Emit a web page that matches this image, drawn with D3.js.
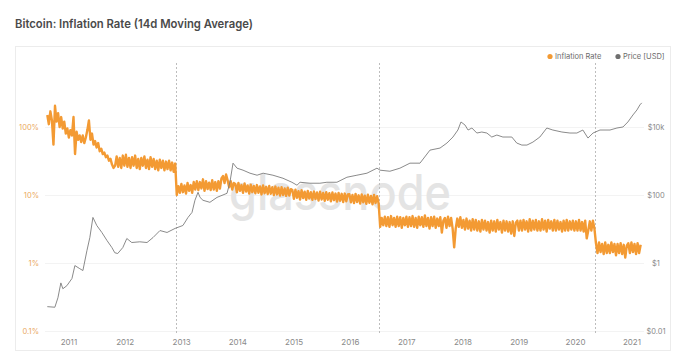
<!DOCTYPE html>
<html><head><meta charset="utf-8">
<script src="https://cdn.jsdelivr.net/npm/d3@7"></script>
<style>html,body{margin:0;padding:0;background:#fff;}svg{display:block;}</style>
</head><body>
<svg id="chart" width="687" height="357"></svg>
<script>
// ---- data ----
const title = "Bitcoin: Inflation Rate (14d Moving Average)";
const yearTicks = ["2011","2012","2013","2014","2015","2016","2017","2018","2019","2020","2021"];
const leftTicks = [100, 10, 1, 0.1];
const leftTickLabels = ["100%","10%","1%","0.1%"];
const rightTicks = [10000, 100, 1, 0.01];
const rightTickLabels = ["$10k","$100","$1","$0.01"];
const halvings = ["2012-11-28","2016-07-09","2020-05-11"];

// Inflation rate (%), one value every 10 days starting 2010-08-17
const inflationStart = "2010-08-17";
const inflationStepDays = 10;
const inflation = [
 150,110,170,125,55,205,120,160,100,140,95,120,
 80,95,70,90,75,140,40,85,65,75,
 60,75,58,70,90,125,65,80,55,62,
 50,58,44,48,40,42,36,38,32,34,28,25,
 27,37,26,35,25,38,27,39,26,35,
 25,36,27,38,25,34,24,35,27,37,
 25,33,24,36,26,34,24,32,23,33,
 25,32,23,31,24,32,23,30,22,29,
 10,13.5,10.8,14.5,11,13.8,10.5,15,11.5,14,10.8,15.5,
 12,16,11.8,15.5,12.5,17,11.5,16,12.2,15.2,11.8,16.5,12,15.5,11.5,16,12.4,17.5,19,15,
 20,16.5,13,16,12,15,
 14.5,11,15,11.5,14,10.8,14.8,11.2,13.8,10.5,14.2,11,13.6,10.6,14,10.8,13.4,10.2,13.8,10.6,13.2,10.3,13.6,10.4,13,10,13.3,10.2,12.8,9.8,13,10,12.5,9.7,12.8,9.8,12.2,
 11.8,8.8,12,9.1,11.4,8.6,11.8,9,11.2,8.5,11.5,8.9,11,8.5,11.3,8.7,10.9,8.3,11.2,8.6,10.7,8.2,11,8.5,10.6,8.1,10.9,8.4,10.5,8,10.7,8.2,10.4,7.9,10.5,8.1,10.2,
 10.3,7.8,10,7.6,10.4,7.9,9.9,7.5,10.2,7.8,9.8,7.4,10.1,7.7,9.7,7.3,10,7.6,9.6,7.5,
 3.4,4.6,3.6,4.8,3.5,4.7,3.4,4.9,3.6,4.6,3.4,4.8,3.5,4.7,3.3,4.6,3.6,4.8,
 3.4,4.7,3.5,4.9,3.4,4.6,3.3,4.8,3.6,4.7,3.4,5.0,3.5,4.6,3.2,4.7,3.5,4.8,3.3,4.5,3.5,4.7,2.8,4.2,4.6,3.3,4.8,3.5,4.6,3.2,1.7,3.2,4.5,3.4,4.7,3.3,
 4.3,3.1,4.5,3.2,4.2,3.0,4.4,3.1,4.3,3.0,4.1,2.9,4.3,3.1,4.2,3.0,4.0,2.8,4.2,3.0,4.1,2.9,4.3,3.1,4.0,2.8,4.2,3.0,4.1,2.9,4.0,2.7,4.1,2.5,3.9,4.2,3.0,
 4.2,3.0,4.3,3.1,4.1,2.9,4.4,3.0,4.2,3.1,4.3,3.0,4.1,3.0,4.4,3.1,4.2,2.9,4.3,3.2,4.1,3.0,4.3,3.0,4.2,3.1,4.0,2.9,4.2,3.0,4.3,3.0,4.1,3.1,4.2,3.0,
 4.1,3.0,4.3,3.0,4.0,2.9,4.2,2.3,3.0,4.1,3.0,4.2,3.2,
 1.95,1.4,2.0,1.45,1.9,1.35,2.0,1.4,1.85,1.4,2.0,1.45,1.9,1.3,1.9,1.4,1.95,1.35,1.85,1.2,1.8,1.95,1.4,2.0,1.45,1.9,1.35,1.95,1.4,1.85
];

// Price (USD)
const priceDates = [
 "2010-08-17","2010-10-05","2010-10-25","2010-11-13","2010-11-26","2010-12-22","2011-01-24","2011-02-12","2011-03-16","2011-04-05",
 "2011-05-01","2011-05-20","2011-06-09","2011-07-04","2011-08-06","2011-09-08","2011-10-10","2011-10-29","2011-11-17","2011-12-20",
 "2012-01-15","2012-02-16","2012-04-08","2012-05-25","2012-07-03","2012-08-17","2012-10-02","2012-11-23","2013-01-13","2013-02-15",
 "2013-03-13","2013-04-01","2013-04-21","2013-05-04","2013-05-23","2013-07-07","2013-08-22","2013-10-26","2013-11-14","2013-12-04",
 "2013-12-30","2014-02-07","2014-03-24","2014-05-09","2014-06-17","2014-08-20","2014-10-24","2014-12-21","2015-01-23","2015-02-12",
 "2015-04-17","2015-06-21","2015-08-05","2015-10-09","2015-12-13","2016-02-16","2016-04-21","2016-06-25","2016-07-15","2016-09-17",
 "2016-11-21","2017-01-25","2017-03-31","2017-06-04","2017-08-08","2017-09-22","2017-10-31","2017-12-02","2017-12-22","2018-01-17",
 "2018-02-06","2018-03-03","2018-04-04","2018-05-06","2018-06-08","2018-07-10","2018-08-12","2018-09-20","2018-11-17","2018-12-19",
 "2019-01-21","2019-02-23","2019-04-03","2019-05-18","2019-07-02","2019-08-10","2019-10-08","2019-11-29","2020-01-13","2020-02-21",
 "2020-03-25","2020-04-27","2020-06-11","2020-08-15","2020-09-29","2020-11-07","2020-12-09","2021-01-11","2021-02-06","2021-02-25",
 "2021-03-09"
];
const priceValues = [
 0.052,0.05,0.095,0.26,0.175,0.215,0.35,0.84,0.68,0.6,
 2.3,5.6,21.9,12.7,7.9,4.6,2.85,2.0,1.9,2.85,
 5.25,4.0,4.2,4.0,5.6,9.0,7.9,10.4,12.7,21.9,
 30.8,70,120,85,70,61,85,112,237,864,
 615,537,438,382,438,382,311,237,194,237,
 222,222,237,237,333,382,438,615,537,500,
 615,864,864,2090,2400,3370,5070,8150,14050,11460,
 8150,9340,6650,7120,6650,5070,5800,5070,5070,3370,
 2940,2940,3600,5070,9340,8150,7120,6650,6650,8150,
 4730,6650,8150,8150,9340,10000,14050,22620,31780,44650,
 51200
];

// ---- chart ----
const svg = d3.select("#chart");
const parse = d3.timeParse("%Y-%m-%d");
const plotTop = 63, plotBottom = 331;
const font = "Inter, 'Open Sans', sans-serif";

// card
svg.append("rect").attr("x",15.5).attr("y",46.5).attr("width",655).attr("height",304)
  .attr("fill","#fff").attr("stroke","#ececec").attr("stroke-width",1);

svg.append("text").attr("x",15).attr("y",27.5).text(title)
  .attr("font-family",font).attr("font-size",12).attr("font-weight",600)
  .attr("fill","#4a4a4a").attr("textLength",238).attr("lengthAdjust","spacingAndGlyphs");

const x = d3.scaleTime()
  .domain([parse("2010-08-17"), parse("2021-03-10")])
  .range([47.3, 641.9]);
const yL = d3.scaleLog().domain([0.1, 100]).range([plotBottom, 127]);
const yR = d3.scaleLog().domain([0.01, 10000]).range([plotBottom, 127]);

// grid
svg.append("g").selectAll("line").data(leftTicks).join("line")
  .attr("x1",45).attr("x2",644).attr("y1",d=>yL(d)+0.5).attr("y2",d=>yL(d)+0.5)
  .attr("stroke","#f3f3f3").attr("stroke-width",1);

// watermark
svg.append("text").attr("x",340).attr("y",210).attr("text-anchor","middle")
  .text("glassnode").attr("font-family",font).attr("font-size",50)
  .attr("font-weight",500).attr("fill","#e4e4e4").attr("textLength",222).attr("lengthAdjust","spacingAndGlyphs");

// halvings
svg.append("g").selectAll("line").data(halvings).join("line")
  .attr("x1",d=>Math.round(x(parse(d)))+0.5).attr("x2",d=>Math.round(x(parse(d)))+0.5)
  .attr("y1",plotTop).attr("y2",plotBottom+2)
  .attr("stroke","#bdbdbd").attr("stroke-width",1).attr("stroke-dasharray","2,2");

// x axis labels
const xAxis = d3.axisBottom(x)
  .tickValues(yearTicks.map(y=>parse(y+"-01-01")))
  .tickFormat(d3.timeFormat("%Y")).tickSize(0).tickPadding(0);
const gx = svg.append("g").attr("transform",`translate(0,${plotBottom+14})`).call(xAxis);
gx.select(".domain").remove();
gx.selectAll("text").attr("font-family",font).attr("font-size",8).attr("fill","#8a8a8a").attr("dy","0");

// left axis labels
const gl = svg.append("g").attr("transform","translate(39,0)")
  .call(d3.axisLeft(yL).tickValues(leftTicks).tickFormat((d,i)=>leftTickLabels[i]).tickSize(0).tickPadding(0));
gl.select(".domain").remove();
gl.selectAll("text").attr("font-family",font).attr("font-size",7.5).attr("fill","#eaa963");

// right axis labels
const gr = svg.append("g").attr("transform","translate(656,0)")
  .call(d3.axisRight(yR).tickValues(rightTicks).tickFormat((d,i)=>rightTickLabels[i]).tickSize(0).tickPadding(0));
gr.select(".domain").remove();
gr.selectAll("text").attr("font-family",font).attr("font-size",7.5).attr("fill","#8a8a8a").attr("text-anchor","middle");

// inflation line
const infData = inflation.map((v,i)=>({d:d3.timeDay.offset(parse(inflationStart), i*inflationStepDays), v}));
svg.append("path").datum(infData)
  .attr("fill","none").attr("stroke","#f39a33").attr("stroke-width",2.4).attr("stroke-linejoin","round")
  .attr("d", d3.line().x(p=>x(p.d)).y(p=>yL(p.v)));

// price line
const priceData = priceDates.map((d,i)=>({d:parse(d), v:priceValues[i]}));
svg.append("path").datum(priceData)
  .attr("fill","none").attr("stroke","#7d7d7d").attr("stroke-width",0.9)
  .attr("d", d3.line().x(p=>x(p.d)).y(p=>yR(p.v)));

// legend
const legend = [{name:"Inflation Rate", c:"#f39a33", x:550},{name:"Price [USD]", c:"#6f6f6f", x:618}];
const lg = svg.append("g").selectAll("g").data(legend).join("g");
lg.append("circle").attr("cx",d=>d.x).attr("cy",56.5).attr("r",2.6).attr("fill",d=>d.c);
lg.append("text").attr("x",d=>d.x+5).attr("y",59).text(d=>d.name)
  .attr("font-family",font).attr("font-size",7.5).attr("fill","#6a6a6a");
</script>
</body></html>
